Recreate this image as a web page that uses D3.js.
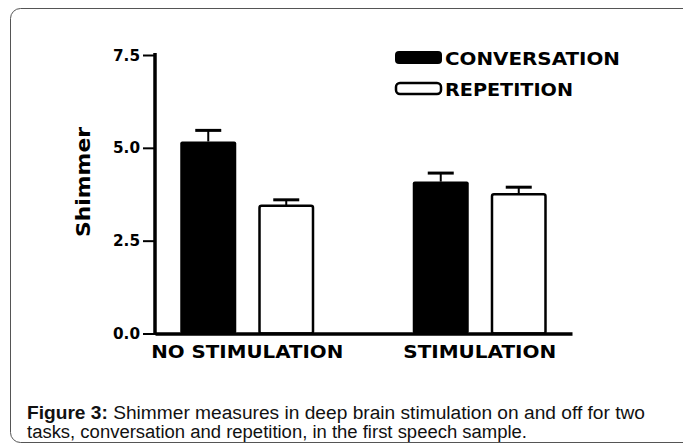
<!DOCTYPE html>
<html>
<head>
<meta charset="utf-8">
<script src="https://cdn.jsdelivr.net/npm/d3@7"></script>
<style>
  html, body { margin: 0; padding: 0; background: #fff; }
  svg { display: block; }
</style>
</head>
<body>
<script>
// ---- data ----
const categories = ["NO STIMULATION", "STIMULATION"];
const series = ["CONVERSATION", "REPETITION"];
const conversation = [5.17, 4.09];
const conversationErr = [0.30, 0.23];
const repetition = [3.44, 3.75];
const repetitionErr = [0.16, 0.19];
const yTicks = [0, 2.5, 5, 7.5];
const yTitle = "Shimmer";
const captionBold = "Figure 3:";
const captionLine1 = " Shimmer measures in deep brain stimulation on and off for two";
const captionLine2 = "tasks, conversation and repetition, in the first speech sample.";

const W = 683, H = 445;
const svg = d3.select("body").append("svg").attr("width", W).attr("height", H);

// frame
svg.append("rect")
  .attr("x", 10.5).attr("y", 8.5).attr("width", 700).attr("height", 434)
  .attr("rx", 10).attr("fill", "none").attr("stroke", "#555").attr("stroke-width", 1);

const font = "'DejaVu Sans', sans-serif";

const y = d3.scaleLinear().domain([0, 7.5]).range([333.5, 55]);
const x0 = d3.scaleBand().domain(categories).range([155, 572]).paddingInner(0.4).paddingOuter(0.0968);
const x1 = d3.scaleBand().domain(series).range([-67, 67]).paddingInner(0.282);

const rows = [];
categories.forEach((c, i) => {
  rows.push({cat: c, s: series[0], v: conversation[i], e: conversationErr[i]});
  rows.push({cat: c, s: series[1], v: repetition[i], e: repetitionErr[i]});
});
const bx = d => x0(d.cat) + x0.bandwidth() / 2 + x1(d.s);

// error bars
const eb = svg.append("g");
rows.forEach(d => {
  const cx = bx(d) + x1.bandwidth() / 2;
  eb.append("line").attr("x1", cx).attr("x2", cx).attr("y1", y(d.v)).attr("y2", y(d.v + d.e))
    .attr("stroke", "#000").attr("stroke-width", 2);
  eb.append("line").attr("x1", cx - 13).attr("x2", cx + 13).attr("y1", y(d.v + d.e)).attr("y2", y(d.v + d.e))
    .attr("stroke", "#000").attr("stroke-width", 3);
});

// bars
svg.append("g").selectAll("rect").data(rows).join("rect")
  .attr("x", d => d.s === series[0] ? bx(d) : bx(d) + 1.25)
  .attr("width", d => d.s === series[0] ? x1.bandwidth() : x1.bandwidth() - 2.5)
  .attr("y", d => y(d.v))
  .attr("height", d => y(0) - y(d.v))
  .attr("rx", 2)
  .attr("fill", d => d.s === series[0] ? "#000" : "#fff")
  .attr("stroke", "#000")
  .attr("stroke-width", d => d.s === series[0] ? 0 : 2.5);

// y axis
const yAxis = svg.append("g").attr("transform", "translate(155,0)")
  .call(d3.axisLeft(y).tickValues(yTicks).tickFormat(d3.format(".1f")).tickSize(12).tickSizeOuter(0).tickPadding(3));
yAxis.select(".domain").attr("stroke-width", 3.5).attr("d", `M0,53V${y(0)+1.5}`);
yAxis.selectAll(".tick line").attr("stroke-width", 2);
yAxis.selectAll(".tick text").attr("font-family", font).attr("font-weight", "bold")
  .attr("font-size", 16).attr("fill", "#000").attr("textLength", 27).attr("lengthAdjust", "spacingAndGlyphs");

// x axis
const xAxis = svg.append("g").attr("transform", `translate(0,${y(0)})`)
  .call(d3.axisBottom(x0).tickSize(0).tickSizeOuter(0).tickPadding(12));
xAxis.select(".domain").attr("stroke-width", 3.5);
xAxis.selectAll(".tick text").attr("font-family", font).attr("font-weight", "bold")
  .attr("font-size", 17).attr("fill", "#000")
  .attr("textLength", d => d === categories[0] ? 192 : 153).attr("lengthAdjust", "spacingAndGlyphs");

// y title
svg.append("text").attr("transform", "translate(90,182) rotate(-90)")
  .attr("text-anchor", "middle").attr("font-family", font).attr("font-weight", "bold")
  .attr("font-size", 20).attr("textLength", 110).attr("lengthAdjust", "spacingAndGlyphs")
  .text(yTitle);

// legend
const leg = svg.append("g");
series.forEach((s, i) => {
  const ly = 51 + i * 31;
  leg.append("rect").attr("x", i === 0 ? 395 : 396).attr("y", i === 0 ? ly : ly + 1)
    .attr("width", i === 0 ? 47 : 45).attr("height", i === 0 ? 13 : 11).attr("rx", 4)
    .attr("fill", i === 0 ? "#000" : "#fff").attr("stroke", "#000").attr("stroke-width", i === 0 ? 0 : 2.5);
  leg.append("text").attr("x", 445).attr("y", ly + 13.5)
    .attr("font-family", font).attr("font-weight", "bold").attr("font-size", 17)
    .attr("textLength", i === 0 ? 175 : 128).attr("lengthAdjust", "spacingAndGlyphs")
    .text(s);
});

// caption
const cap = svg.append("g").attr("font-family", "'Liberation Sans', Arial, sans-serif").attr("font-size", 18).attr("fill", "#111");
const t1 = cap.append("text").attr("x", 27).attr("y", 419).attr("textLength", 618).attr("lengthAdjust", "spacingAndGlyphs");
t1.append("tspan").attr("font-weight", "bold").text(captionBold);
t1.append("tspan").text(captionLine1);
cap.append("text").attr("x", 27).attr("y", 438).attr("textLength", 500).attr("lengthAdjust", "spacingAndGlyphs").text(captionLine2);
</script>
</body>
</html>
